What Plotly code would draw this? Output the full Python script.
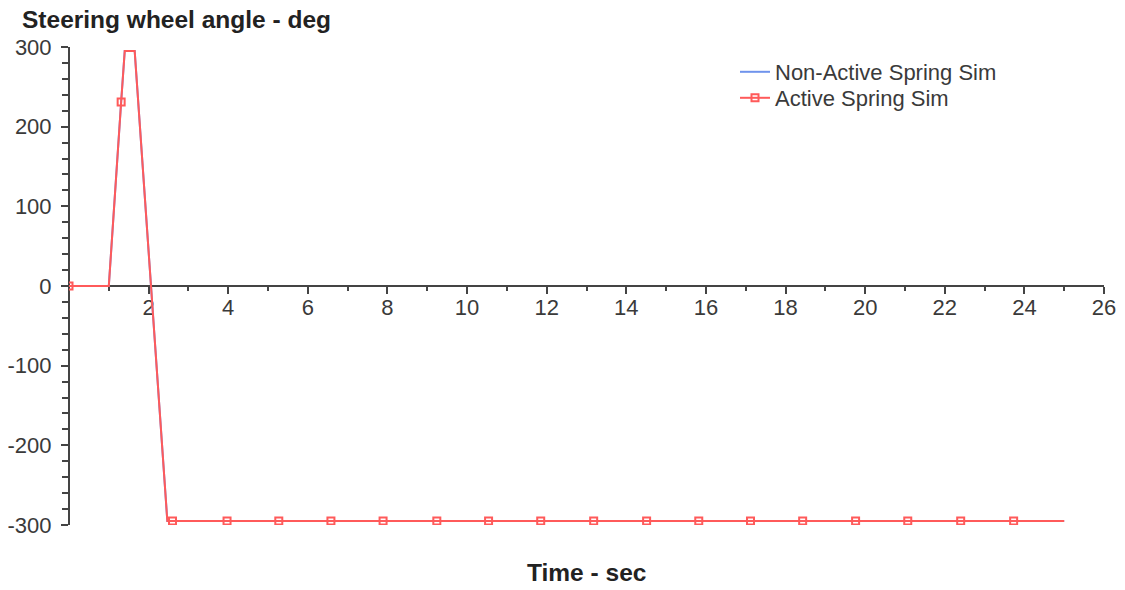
import plotly.graph_objects as go

# ---- data ----
time_s = [0.0, 1.0, 1.31, 1.4, 1.65, 2.47, 2.6, 3.97, 5.27, 6.58, 7.89, 9.24,
          10.54, 11.85, 13.18, 14.51, 15.82, 17.12, 18.43, 19.76, 21.07,
          22.4, 23.73, 25.0]
non_active_deg = [0, 0, 231, 295, 295, -295, -295, -295, -295, -295, -295, -295,
                  -295, -295, -295, -295, -295, -295, -295, -295, -295,
                  -295, -295, -295]
active_deg = [0, 0, 231, 295, 295, -295, -295, -295, -295, -295, -295, -295,
              -295, -295, -295, -295, -295, -295, -295, -295, -295,
              -295, -295, -295]
marker_times = [0.0, 1.31, 2.6, 3.97, 5.27, 6.58, 7.89, 9.24, 10.54, 11.85,
                13.18, 14.51, 15.82, 17.12, 18.43, 19.76, 21.07, 22.4, 23.73]

x_major = [2, 4, 6, 8, 10, 12, 14, 16, 18, 20, 22, 24, 26]
x_minor = [1, 3, 5, 7, 9, 11, 13, 15, 17, 19, 21, 23, 25]
y_major = [300, 200, 100, 0, -100, -200, -300]

AX = "#444444"
TXT = "#3a3a3a"
FONT = "Liberation Sans, Arial, sans-serif"

# the page body has an 8px margin; size the figure so nothing scrolls
W, H = 1109, 574
OFF = 8
plot_left, plot_right = 69, 1104      # window pixels
plot_top, plot_bottom = 47, 525
pw, ph = plot_right - plot_left, plot_bottom - plot_top

sel = [i for i, t in enumerate(time_s) if t in marker_times]

fig = go.Figure()
fig.add_trace(go.Scatter(
    x=time_s, y=non_active_deg, mode="lines", name="Non-Active Spring Sim",
    line=dict(color="#6f93ec", width=2), legend="legend",
))
fig.add_trace(go.Scatter(
    x=time_s, y=active_deg, mode="lines+markers", name="Active Spring Sim",
    line=dict(color="#ff5a5a", width=2),
    marker=dict(symbol="square-open", size=7, color="#ff5a5a",
                line=dict(width=2, color="#ff5a5a")),
    selectedpoints=sel,
    selected=dict(marker=dict(opacity=1)),
    unselected=dict(marker=dict(opacity=0)),
    legend="legend2",
))

common_x = dict(range=[0, 26], showgrid=False, zeroline=False, fixedrange=True,
                automargin=False)
common_y = dict(range=[-300, 300], showgrid=False, zeroline=False, fixedrange=True,
                automargin=False)

leg_x = (735 - plot_left) / pw
leg_common = dict(x=leg_x, xanchor="left", yanchor="top",
                  bgcolor="rgba(0,0,0,0)", font=dict(size=22, color=TXT))

fig.update_layout(
    width=W, height=H,
    margin=dict(l=plot_left - OFF, r=OFF + W - plot_right,
                t=plot_top - OFF, b=OFF + H - plot_bottom, autoexpand=False),
    paper_bgcolor="white", plot_bgcolor="white",
    font=dict(family=FONT, color=TXT, size=22),
    title=dict(text="Steering wheel angle - deg", xref="container",
               x=(22 - OFF) / W, xanchor="left", yref="container",
               y=1 - (19 - OFF) / H, yanchor="middle",
               font=dict(family=FONT, size=24.5, weight="bold", color="#222222")),
    showlegend=True,
    legend=dict(**leg_common, y=1 - (51 - plot_top) / ph),
    legend2=dict(**leg_common, y=1 - (77 - plot_top) / ph),
    xaxis=dict(**common_x, anchor="free", position=0.5, showline=True,
               linecolor=AX, linewidth=2, layer="below traces",
               tickmode="array", tickvals=x_major, ticktext=[str(v) for v in x_major],
               ticks="outside", ticklen=7, tickwidth=2, tickcolor=AX,
               ticklabelstandoff=-5, tickfont=dict(size=22, color=TXT),
               minor=dict(tickmode="array", tickvals=x_minor, ticks="outside",
                          ticklen=4, tickwidth=2, tickcolor=AX)),
    xaxis2=dict(**common_x, overlaying="x", anchor="free", position=0.5,
                showline=False, showticklabels=False, layer="below traces",
                tickmode="array", tickvals=x_major,
                ticks="inside", ticklen=7, tickwidth=2, tickcolor=AX,
                minor=dict(tickmode="array", tickvals=x_minor, ticks="inside",
                           ticklen=4, tickwidth=2, tickcolor=AX)),
    yaxis=dict(**common_y, anchor="free", position=0, showline=True,
               linecolor=AX, linewidth=2, layer="below traces",
               tickmode="array", tickvals=y_major, ticktext=[str(v) for v in y_major],
               ticks="outside", ticklen=7, tickwidth=2, tickcolor=AX,
               ticklabelstandoff=5, tickfont=dict(size=22, color=TXT),
               minor=dict(dtick=20, tick0=0, ticks="outside", ticklen=6,
                          tickwidth=2, tickcolor=AX)),
    yaxis2=dict(**common_y, overlaying="y", anchor="free", position=0, side="left",
                showline=False, showticklabels=False, layer="below traces",
                tickmode="array", tickvals=y_major,
                ticks="inside", ticklen=7, tickwidth=2, tickcolor=AX,
                minor=dict(dtick=20, tick0=0, ticks="inside", ticklen=6,
                           tickwidth=2, tickcolor=AX)),
    annotations=[dict(text="Time - sec", xref="paper", yref="paper", x=0.5,
                      y=-(572 - plot_bottom) / ph,
                      xanchor="center", yanchor="middle", showarrow=False,
                      font=dict(family=FONT, size=24.5, weight="bold", color="#222222"))],
)

fig.write_html("out.html")
